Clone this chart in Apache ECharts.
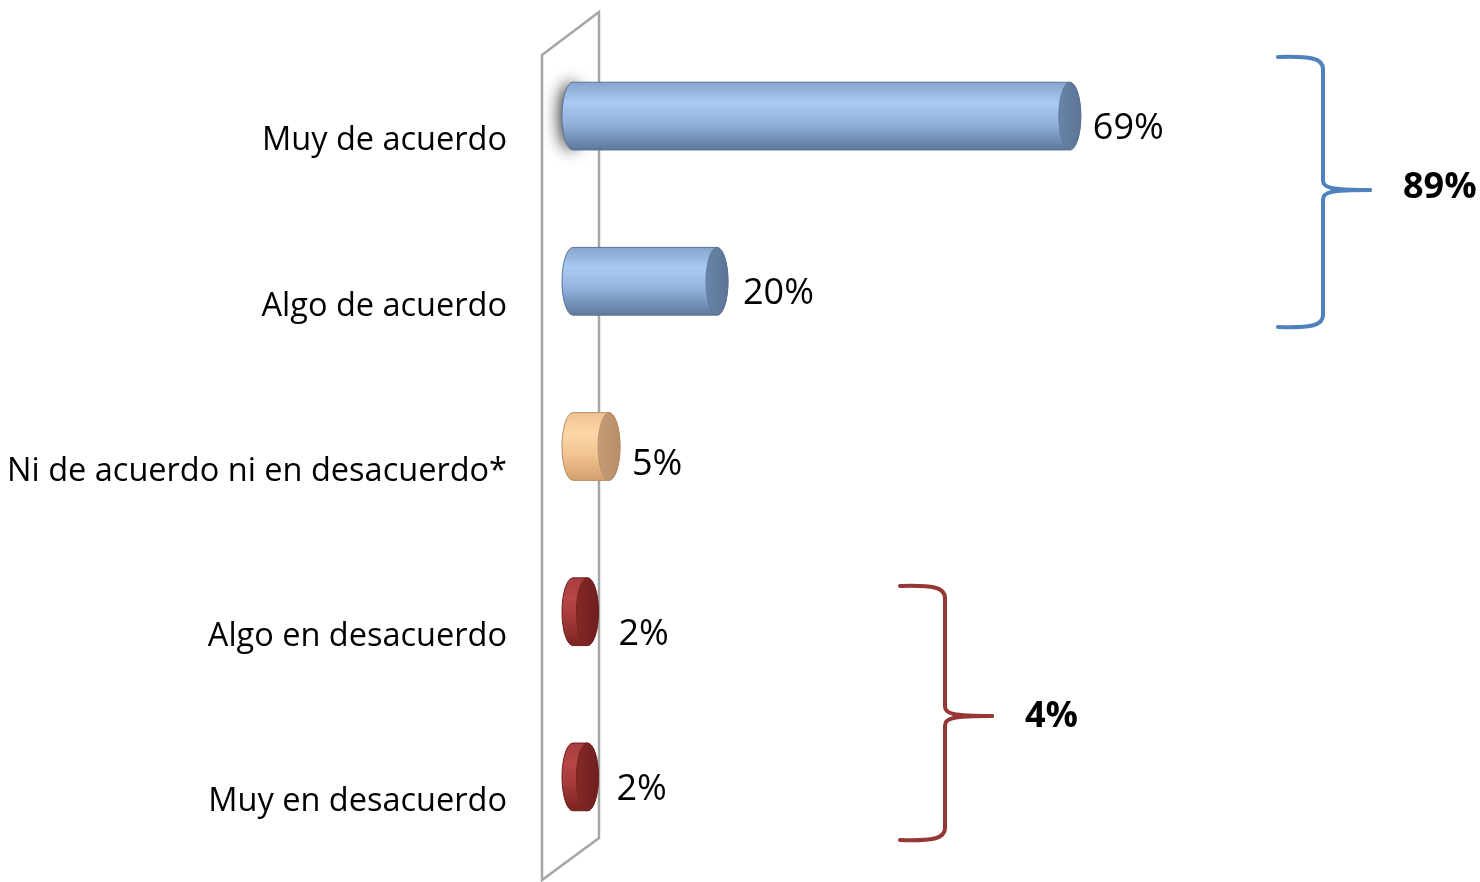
<!DOCTYPE html>
<html>
<head>
<meta charset="utf-8">
<script src="https://cdn.jsdelivr.net/npm/echarts@6/dist/echarts.min.js"></script>
<style>
html,body{margin:0;padding:0;background:#fff;}
#c{width:1480px;height:882px;}
</style>
</head>
<body>
<div id="c"></div>
<script>
// ---- data ----
const categories = ['Muy de acuerdo', 'Algo de acuerdo', 'Ni de acuerdo ni en desacuerdo*', 'Algo en desacuerdo', 'Muy en desacuerdo'];
const values = [69, 20, 5, 2, 2];
const groupLabels = ['89%', '4%'];

// ---- styles ----
const FONT = '"Open Sans", "Noto Sans", sans-serif';
const tones = ['blue', 'blue', 'tan', 'red', 'red'];
const labelNudge = [[-2, 1], [1, 0], [-2, 6], [6, 11], [4, 1]];
const palette = {
  blue: { body: ['#86a3cb', '#a9caf3', '#93b3de', '#5c7799'], cap: '#6a85aa', edge: '#5b7396' },
  tan:  { body: ['#efc08f', '#fdd7a9', '#f2c592', '#d3a06c'], cap: '#c59d78', edge: '#b88d66' },
  red:  { body: ['#a53d3c', '#b84646', '#a43a39', '#7a2221'], cap: '#862927', edge: '#6e1f1e' }
};

function linGrad(x, y, x2, y2, stops) {
  return { type: 'linear', x: x, y: y, x2: x2, y2: y2, colorStops: stops, global: false };
}

const chart = echarts.init(document.getElementById('c'), null, { renderer: 'canvas' });

function renderItem(params, api) {
  const val = api.value(0);
  const cat = api.value(1);
  const p0 = api.coord([0, cat]);
  const p1 = api.coord([val, cat]);
  const h = api.size([0, 1])[1] * 0.41;
  const rx = 11, ry = h / 2;
  const x0 = p0[0], x1 = p1[0], yc = p0[1];
  const yt = yc - ry, yb = yc + ry;
  const pal = palette[tones[params.dataIndex]];
  const nudge = labelNudge[params.dataIndex];
  const grad = linGrad(0, 0, 0, 1, [
    { offset: 0, color: pal.body[0] },
    { offset: 0.3, color: pal.body[1] },
    { offset: 0.6, color: pal.body[2] },
    { offset: 1, color: pal.body[3] }
  ]);
  const children = [];
  if (params.dataIndex === 0) {
    children.push({
      type: 'path',
      shape: { pathData: `M ${x0} ${yt} A ${rx} ${ry} 0 0 0 ${x0} ${yb} A ${rx} ${ry} 0 0 0 ${x0} ${yt} Z` },
      style: { fill: '#999', shadowColor: 'rgba(0,0,0,0.8)', shadowBlur: 16, shadowOffsetX: -3 },
      z2: 0
    });
  }
  children.push({
    type: 'path',
    shape: { pathData: `M ${x0} ${yt} L ${x1} ${yt} A ${rx} ${ry} 0 0 1 ${x1} ${yb} L ${x0} ${yb} A ${rx} ${ry} 0 0 1 ${x0} ${yt} Z` },
    style: { fill: grad, stroke: pal.edge, lineWidth: 1 },
    z2: 1
  });
  children.push({
    type: 'path',
    shape: { pathData: `M ${x1} ${yt} A ${rx} ${ry} 0 0 1 ${x1} ${yb} A ${rx} ${ry} 0 0 1 ${x1} ${yt} Z` },
    style: { fill: linGrad(0, 0, 1, 0, [{ offset: 0, color: pal.cap }, { offset: 1, color: pal.edge }]), stroke: pal.edge, lineWidth: 0.8 },
    z2: 2
  });
  children.push({
    type: 'text',
    style: {
      text: val + '%', x: x1 + rx + 14 + nudge[0], y: yc + 12 + nudge[1],
      fill: '#000', fontSize: 36, fontFamily: FONT,
      align: 'left', verticalAlign: 'middle'
    },
    z2: 3
  });
  return { type: 'group', children: children };
}

function brace(xL, xV, xT, yTop, yTip, yBot, color) {
  const st = { stroke: color, lineWidth: 4, lineCap: 'round', fill: 'none' };
  const bz = (x1, y1, c1x, c1y, c2x, c2y, x2, y2) => ({
    type: 'bezierCurve',
    shape: { x1: x1, y1: y1, cpx1: c1x, cpy1: c1y, cpx2: c2x, cpy2: c2y, x2: x2, y2: y2 },
    style: st
  });
  const ln = (x1, y1, x2, y2) => ({ type: 'line', shape: { x1: x1, y1: y1, x2: x2, y2: y2 }, style: st });
  return {
    type: 'group', z: 5,
    children: [
      bz(xL, yTop, xL + 32, yTop - 1, xV, yTop + 1, xV, yTop + 12),
      ln(xV, yTop + 12, xV, yTip - 10),
      bz(xV, yTip - 10, xV, yTip - 2, xV + 7, yTip, xT, yTip),
      bz(xT, yTip, xV + 7, yTip, xV, yTip + 2, xV, yTip + 10),
      ln(xV, yTip + 10, xV, yBot - 12),
      bz(xV, yBot - 12, xV, yBot - 1, xL + 32, yBot + 1, xL, yBot)
    ]
  };
}

const option = {
  animation: false,
  backgroundColor: '#fff',
  grid: { left: 573, width: 720, top: 33.5, bottom: 22.5 },
  xAxis: { type: 'value', min: 0, max: 100, show: false },
  yAxis: {
    type: 'category', data: categories, inverse: true,
    axisLine: { show: false }, axisTick: { show: false }, splitLine: { show: false },
    axisLabel: {
      margin: 66, fontSize: 32.5, fontFamily: FONT, color: '#000',
      verticalAlign: 'top', lineHeight: 38, padding: [6, 0, 0, 0]
    }
  },
  graphic: [
    {
      type: 'polygon', z: 0,
      shape: { points: [[542, 55], [599, 12], [599, 838], [542, 880]] },
      style: { fill: 'none', stroke: '#a6a6a6', lineWidth: 2.5 }
    },
    brace(1278, 1323, 1370, 57, 190, 327, '#4f81bd'),
    {
      type: 'text', z: 5,
      style: { text: groupLabels[0], x: 1403, y: 188, fill: '#000', fontSize: 36, fontWeight: 'bold', fontFamily: FONT, align: 'left', verticalAlign: 'middle' }
    },
    brace(900, 945, 992, 586, 716, 840, '#953735'),
    {
      type: 'text', z: 5,
      style: { text: groupLabels[1], x: 1025, y: 717, fill: '#000', fontSize: 36, fontWeight: 'bold', fontFamily: FONT, align: 'left', verticalAlign: 'middle' }
    }
  ],
  series: [{
    type: 'custom',
    renderItem: renderItem,
    encode: { x: 0, y: 1 },
    data: values.map((v, i) => [v, i]),
    z: 3
  }]
};
chart.setOption(option);
</script>
</body>
</html>
